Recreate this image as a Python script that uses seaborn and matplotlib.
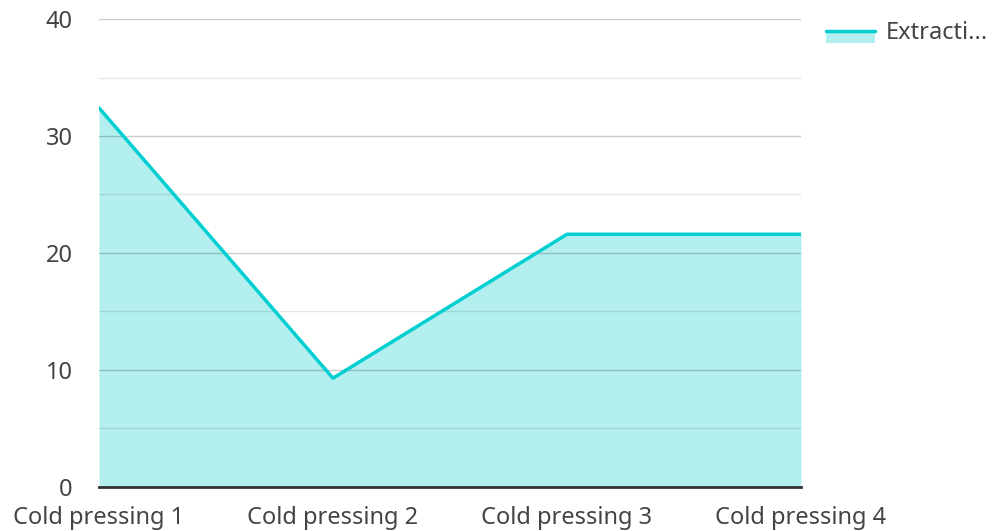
import numpy as np
import pandas as pd
import matplotlib.pyplot as plt
import seaborn as sns
from matplotlib.patches import Rectangle
from matplotlib.lines import Line2D

# data
categories = ["Cold pressing 1", "Cold pressing 2", "Cold pressing 3", "Cold pressing 4"]
extraction = [32.4, 9.3, 21.6, 21.6]
series_name = "Extracti..."

line_color = "#00CED1"
fill_color = "#B2EFEE"

sns.set_style("white")
plt.rcParams["font.family"] = ["Noto Sans", "DejaVu Sans"]

df = pd.DataFrame({"cat": categories, "val": extraction})
df["pos"] = np.arange(len(df))

fig = plt.figure(figsize=(9.93, 5.31), dpi=100)
ax = fig.add_axes([0.0997, 0.0829, 0.7069, 0.8813])

ax.fill_between(df["pos"], df["val"], 0, color=fill_color, linewidth=0, zorder=1)
sns.lineplot(data=df, x="pos", y="val", ax=ax, color=line_color, linewidth=2.5, zorder=3)

ax.set_xlim(0, len(df) - 1)
ax.set_ylim(0, 40)
ax.set_yticks([0, 10, 20, 30, 40])
ax.set_yticks([5, 15, 25, 35], minor=True)
ax.set_xticks(df["pos"])
ax.set_xticklabels(categories)
# semi-transparent grid so it darkens over the filled area
ax.grid(axis="y", which="major", color="black", alpha=0.2, linewidth=1, zorder=2)
ax.grid(axis="y", which="minor", color="black", alpha=0.1, linewidth=1, zorder=2)
ax.set_axisbelow(False)
ax.set_xlabel("")
ax.set_ylabel("")

for s in ["top", "right", "left"]:
    ax.spines[s].set_visible(False)
ax.spines["bottom"].set_color("#333333")
ax.spines["bottom"].set_linewidth(2)
ax.spines["bottom"].set_zorder(4)

ax.tick_params(axis="both", which="both", length=0, labelsize=17, labelcolor="#444444")
ax.tick_params(axis="y", pad=19)
ax.tick_params(axis="x", pad=14)

# legend drawn by hand in figure coords
fig.add_artist(Rectangle((826 / 993, 1 - 43 / 531), 49 / 993, 13 / 531,
                         transform=fig.transFigure, color=fill_color, linewidth=0))
fig.add_artist(Line2D([826 / 993, 875 / 993], [1 - 31 / 531, 1 - 31 / 531],
                      transform=fig.transFigure, color=line_color, linewidth=2.5))
fig.text(886 / 993, 1 - 33 / 531, series_name, fontsize=17, color="#444444", va="center", ha="left")

fig.savefig("out.png", dpi=100)
